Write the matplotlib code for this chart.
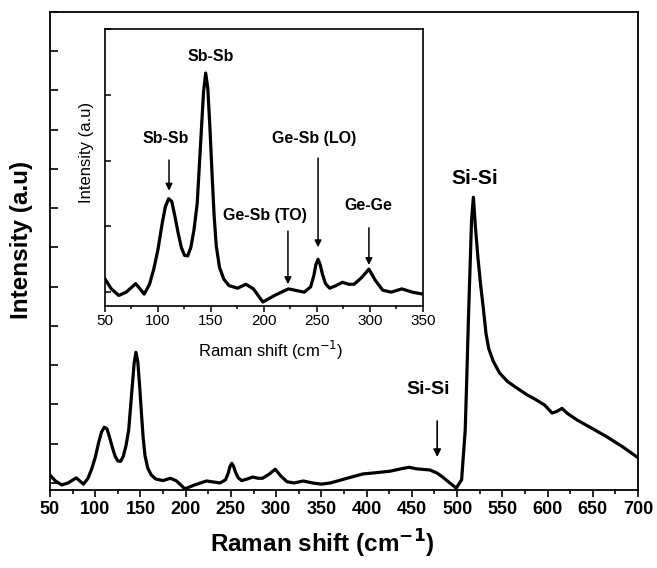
import numpy as np
import matplotlib.pyplot as plt
from matplotlib.ticker import MultipleLocator

plt.rcParams['font.family'] = ['Liberation Sans', 'DejaVu Sans']

# Raman spectrum (arbitrary intensity units)
shift = [50, 56, 63, 70, 79, 87, 92, 96, 100, 104, 107, 110, 113, 116, 119,
         122, 125, 128, 131, 134, 137, 140, 143, 145, 147, 149, 151, 153, 155,
         158, 162, 167, 175, 183, 190, 199, 210, 223, 232, 238, 244, 247, 249,
         251, 253, 255, 258, 262, 268, 274, 280, 285, 292, 299, 305, 312, 320,
         330, 340, 350, 360, 380, 396, 410, 426, 440, 447, 455, 470, 478, 484,
         492, 499, 505, 509, 511, 512.5, 516, 518, 520, 523, 526, 529, 532,
         535, 540, 547, 556, 566, 577, 588, 597, 605, 610, 616, 622, 633, 650,
         666, 683, 699, 700]
intensity = [0.20, 0.05, -0.05, 0.00, 0.13, -0.03, 0.12, 0.35, 0.65, 1.05,
             1.30, 1.42, 1.38, 1.15, 0.90, 0.68, 0.56, 0.55, 0.68, 0.95, 1.35,
             2.20, 3.05, 3.33, 3.10, 2.50, 1.80, 1.15, 0.70, 0.38, 0.20, 0.10,
             0.06, 0.12, 0.05, -0.15, -0.05, 0.05, 0.02, 0.00, 0.08, 0.25,
             0.42, 0.50, 0.42, 0.28, 0.13, 0.06, 0.10, 0.15, 0.12, 0.12, 0.22,
             0.35, 0.18, 0.03, 0.00, 0.05, 0.00, -0.03, 0.00, 0.13, 0.23, 0.26,
             0.30, 0.37, 0.40, 0.36, 0.33, 0.25, 0.15, 0.00, -0.13, 0.08, 1.35,
             2.90, 4.15, 6.70, 7.28, 6.60, 5.75, 5.05, 4.45, 3.80, 3.42, 3.10,
             2.80, 2.58, 2.42, 2.25, 2.11, 1.98, 1.78, 1.82, 1.90, 1.77, 1.60,
             1.38, 1.17, 0.92, 0.66, 0.65]

shift = np.array(shift)
intensity = np.array(intensity)

fig = plt.figure(figsize=(6.57, 5.68), dpi=100)
ax = fig.add_axes([0.0761, 0.1373, 0.895, 0.8416])
ax.plot(shift, intensity, color='black', lw=2.3, solid_joinstyle='round')
ax.set_xlim(50, 700)
ax.set_ylim(-0.18, 12)
ax.xaxis.set_major_locator(MultipleLocator(50))
ax.xaxis.set_minor_locator(MultipleLocator(25))
ax.yaxis.set_major_locator(MultipleLocator(1))
ax.tick_params(axis='x', which='major', direction='out', length=5, width=1.2,
               labelsize=13, pad=3)
ax.tick_params(axis='x', which='minor', direction='out', length=3, width=1.2)
ax.tick_params(axis='y', which='major', direction='in', length=6, width=1.2,
               labelleft=False)
for lab in ax.get_xticklabels():
    lab.set_fontweight('bold')
for s in ax.spines.values():
    s.set_linewidth(1.3)
ax.set_xlabel('Raman shift (cm$^{\\mathbf{-1}}$)', fontsize=17.5,
              fontweight='bold')
ax.xaxis.set_label_coords(0.463, -0.08)
ax.set_ylabel('Intensity (a.u)', fontsize=17.5, fontweight='bold')
ax.yaxis.set_label_coords(-0.029, 0.523)

ax.text(520, 7.76, 'Si-Si', ha='center', va='center', fontsize=15,
        fontweight='bold')
ax.text(468, 2.37, 'Si-Si', ha='center', va='center', fontsize=14,
        fontweight='bold')
ax.annotate('', xy=(478, 0.59), xytext=(478, 1.65),
            arrowprops=dict(arrowstyle='-|>', color='black', lw=1.2,
                            mutation_scale=11))

# inset: zoom on 50-350 cm-1
ins = fig.add_axes([0.1598, 0.4613, 0.484, 0.4877])
mask = shift <= 350
ins.plot(shift[mask], intensity[mask], color='black', lw=2.3,
         solid_joinstyle='round')
ins.set_xlim(50, 350)
ins.set_ylim(-0.21, 4.0)
ins.xaxis.set_major_locator(MultipleLocator(50))
ins.xaxis.set_minor_locator(MultipleLocator(25))
ins.yaxis.set_major_locator(MultipleLocator(1))
ins.tick_params(axis='x', which='major', direction='out', length=4, width=1.1,
                labelsize=11, pad=2)
ins.tick_params(axis='x', which='minor', direction='out', length=2.5, width=1.1)
ins.tick_params(axis='y', which='major', direction='in', length=4, width=1.1,
                labelleft=False)
for s in ins.spines.values():
    s.set_linewidth(1.2)
ins.set_xlabel('Raman shift (cm$^{-1}$)', fontsize=12)
ins.xaxis.set_label_coords(0.522, -0.12)
ins.set_ylabel('Intensity (a.u)', fontsize=12)
ins.yaxis.set_label_coords(-0.036, 0.556)

arrow = dict(arrowstyle='-|>', color='black', lw=1.1, mutation_scale=10)
lab = dict(ha='center', va='center', fontsize=11.5, fontweight='bold')
ins.text(150, 3.58, 'Sb-Sb', **lab)
ins.text(107, 2.34, 'Sb-Sb', **lab)
ins.annotate('', xy=(110.4, 1.5), xytext=(110.4, 2.05), arrowprops=arrow)
ins.text(201, 1.17, 'Ge-Sb (TO)', **lab)
ins.annotate('', xy=(222.6, 0.08), xytext=(222.6, 0.97), arrowprops=arrow)
ins.text(247, 2.34, 'Ge-Sb (LO)', **lab)
ins.annotate('', xy=(251, 0.64), xytext=(251, 2.08), arrowprops=arrow)
ins.text(298, 1.32, 'Ge-Ge', **lab)
ins.annotate('', xy=(299, 0.37), xytext=(299, 1.02), arrowprops=arrow)

fig.savefig('out.png', dpi=100)
